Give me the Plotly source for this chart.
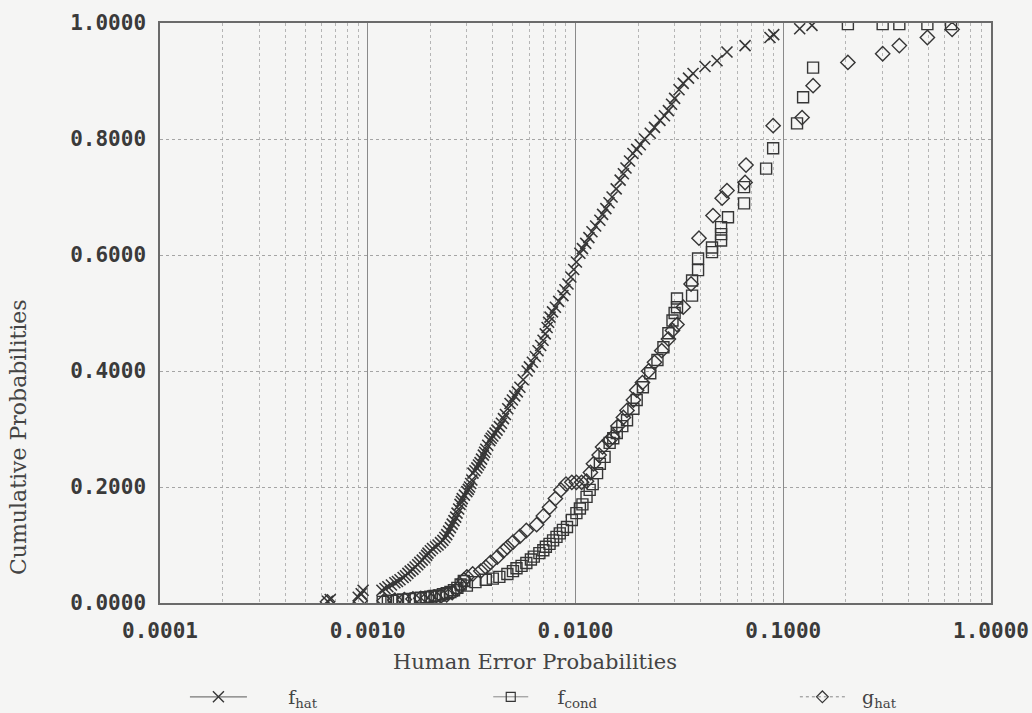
import plotly.graph_objects as go

# ---- data -------------------------------------------------------------
# f_hat : empirical CDF of estimated human error probabilities
fhat_x = [0.00064, 0.00066, 0.00090, 0.00093, 0.00095,
          0.00117, 0.00121, 0.00125, 0.00130, 0.00135, 0.00139, 0.00143, 0.00148,
          0.00152, 0.00156, 0.00160, 0.00165, 0.00169, 0.00174, 0.00178, 0.00183,
          0.00188, 0.00192, 0.00195, 0.00200, 0.00205, 0.00212, 0.00218, 0.00224,
          0.00230, 0.00235, 0.00240, 0.00245, 0.00250, 0.00255, 0.00260, 0.00265,
          0.00269, 0.00274, 0.00278, 0.00282, 0.00285, 0.00292, 0.00300, 0.00305,
          0.00309, 0.00313, 0.00317, 0.00321, 0.00328, 0.00335, 0.00341, 0.00347,
          0.00353, 0.00360, 0.00365, 0.00370, 0.00378, 0.00387, 0.00393, 0.00400,
          0.00410, 0.00419, 0.00430, 0.00440, 0.00450, 0.00460, 0.00472, 0.00484,
          0.00497, 0.00510, 0.00525, 0.00540, 0.00560, 0.00585, 0.00600, 0.00620,
          0.00640, 0.00660, 0.00680, 0.00698, 0.00715, 0.00730, 0.00742, 0.00754,
          0.00775, 0.00800, 0.00830, 0.00870, 0.00890, 0.00920, 0.00950, 0.00980,
          0.01010, 0.01050, 0.01080, 0.01120, 0.01160, 0.01200, 0.01250, 0.01310,
          0.01350, 0.01400, 0.01450, 0.01500, 0.01570, 0.01640, 0.01700, 0.01750,
          0.01820, 0.01890, 0.01970, 0.02050, 0.02150, 0.02290, 0.02400, 0.02550,
          0.02680, 0.02800, 0.02900, 0.03000, 0.03150, 0.03300, 0.03500, 0.03680,
          0.04200, 0.04800, 0.05360, 0.06550, 0.08630, 0.09000, 0.12000, 0.13750]
fhat_y = [0.003, 0.006, 0.010, 0.016, 0.022,
          0.022, 0.025, 0.028, 0.031, 0.035, 0.037, 0.040, 0.044,
          0.047, 0.051, 0.055, 0.058, 0.062, 0.066, 0.070, 0.074,
          0.078, 0.082, 0.086, 0.090, 0.094, 0.097, 0.100, 0.104,
          0.108, 0.113, 0.118, 0.124, 0.130, 0.136, 0.142, 0.148,
          0.155, 0.162, 0.170, 0.175, 0.180, 0.186, 0.192, 0.196,
          0.200, 0.206, 0.212, 0.224, 0.228, 0.233, 0.238, 0.242,
          0.248, 0.255, 0.260, 0.265, 0.272, 0.280, 0.284, 0.288,
          0.293, 0.298, 0.304, 0.310, 0.318, 0.325, 0.335, 0.344,
          0.350, 0.357, 0.364, 0.372, 0.385, 0.400, 0.407, 0.415,
          0.425, 0.435, 0.444, 0.453, 0.464, 0.475, 0.484, 0.493,
          0.502, 0.510, 0.520, 0.530, 0.540, 0.550, 0.562, 0.575,
          0.588, 0.603, 0.611, 0.620, 0.630, 0.640, 0.650, 0.660,
          0.670, 0.680, 0.690, 0.700, 0.714, 0.729, 0.740, 0.750,
          0.762, 0.775, 0.782, 0.790, 0.800, 0.810, 0.820, 0.832,
          0.840, 0.849, 0.860, 0.870, 0.885, 0.896, 0.905, 0.913,
          0.925, 0.935, 0.950, 0.961, 0.975, 0.980, 0.990, 0.996]

# f_cond : conditional distribution
fcond_x = [0.00118, 0.00125, 0.00130, 0.00138, 0.00148, 0.00158, 0.00170, 0.00180,
           0.00190, 0.00200, 0.00210, 0.00220, 0.00230, 0.00240, 0.00250, 0.00260,
           0.00270, 0.00280, 0.00290, 0.00300, 0.00330, 0.00370, 0.00400, 0.00430,
           0.00470, 0.00500, 0.00520, 0.00550, 0.00580, 0.00610, 0.00630, 0.00670,
           0.00700, 0.00720, 0.00750, 0.00780, 0.00810, 0.00840, 0.00870, 0.00910,
           0.00960, 0.01010, 0.01050, 0.01080, 0.01130, 0.01170, 0.01210, 0.01270,
           0.01310, 0.01380, 0.01460, 0.01520, 0.01580, 0.01680, 0.01770, 0.01900,
           0.01970, 0.02110, 0.02290, 0.02480, 0.02650, 0.02800, 0.02930, 0.03000,
           0.03080, 0.03080, 0.03640, 0.03640, 0.03890, 0.03890, 0.04540, 0.04540,
           0.05020, 0.05020, 0.05020, 0.05420, 0.06480, 0.06480, 0.08270, 0.08940,
           0.11650, 0.12460, 0.13920, 0.20470, 0.30100, 0.36200, 0.49400, 0.64200]
fcond_y = [0.002, 0.003, 0.004, 0.005, 0.006, 0.007, 0.008, 0.009,
           0.010, 0.011, 0.012, 0.013, 0.015, 0.017, 0.019, 0.022,
           0.026, 0.032, 0.038, 0.030, 0.036, 0.040, 0.042, 0.045,
           0.050, 0.055, 0.060, 0.064, 0.069, 0.075, 0.080, 0.086,
           0.091, 0.097, 0.102, 0.108, 0.114, 0.120, 0.126, 0.131,
           0.143, 0.155, 0.163, 0.170, 0.183, 0.195, 0.205, 0.224,
           0.240, 0.252, 0.276, 0.284, 0.293, 0.305, 0.315, 0.335,
           0.350, 0.372, 0.396, 0.419, 0.441, 0.465, 0.487, 0.500,
           0.510, 0.525, 0.530, 0.556, 0.574, 0.594, 0.605, 0.613,
           0.625, 0.636, 0.648, 0.665, 0.689, 0.717, 0.749, 0.784,
           0.827, 0.872, 0.923, 0.998, 0.998, 0.998, 0.998, 0.998]

# g_hat : alternative estimate
ghat_x = [0.00064, 0.00092, 0.00120, 0.00135, 0.00150, 0.00165, 0.00180, 0.00195,
          0.00210, 0.00225, 0.00240, 0.00255, 0.00270, 0.00280, 0.00290, 0.00300,
          0.00320, 0.00350, 0.00370, 0.00390, 0.00420, 0.00450, 0.00470, 0.00500,
          0.00540, 0.00580, 0.00650, 0.00700, 0.00750, 0.00800, 0.00850, 0.00900,
          0.00960, 0.01010, 0.01070, 0.01130, 0.01180, 0.01220, 0.01300, 0.01350,
          0.01450, 0.01510, 0.01600, 0.01700, 0.01770, 0.01900, 0.01970, 0.02100,
          0.02250, 0.02400, 0.02600, 0.02800, 0.02930, 0.03080, 0.03300, 0.03600,
          0.03930, 0.04590, 0.05080, 0.05360, 0.06550, 0.06620, 0.08940, 0.12320,
          0.13920, 0.20470, 0.30100, 0.36200, 0.49400, 0.65000]
ghat_y = [0.002, 0.004, 0.004, 0.005, 0.006, 0.007, 0.008, 0.009,
          0.010, 0.012, 0.014, 0.018, 0.024, 0.030, 0.040, 0.045,
          0.050, 0.055, 0.062, 0.070, 0.079, 0.090, 0.096, 0.105,
          0.115, 0.125, 0.135, 0.150, 0.165, 0.180, 0.195, 0.205,
          0.208, 0.208, 0.208, 0.210, 0.225, 0.240, 0.255, 0.269,
          0.280, 0.286, 0.305, 0.320, 0.332, 0.350, 0.367, 0.380,
          0.400, 0.415, 0.435, 0.455, 0.470, 0.480, 0.510, 0.550,
          0.629, 0.668, 0.698, 0.711, 0.725, 0.755, 0.823, 0.837,
          0.892, 0.932, 0.947, 0.961, 0.975, 0.989]

x_tick_vals = [1e-4, 1e-3, 1e-2, 1e-1, 1.0]
x_tick_text = ["0.0001", "0.0010", "0.0100", "0.1000", "1.0000"]
x_minor_vals = [m * d for d in (1e-4, 1e-3, 1e-2, 1e-1) for m in range(2, 10)]
y_tick_vals = [0.0, 0.2, 0.4, 0.6, 0.8, 1.0]
y_tick_text = ["0.0000", "0.2000", "0.4000", "0.6000", "0.8000", "1.0000"]

INK = "#363636"
MONO = "DejaVu Sans Mono"
SERIF = "DejaVu Serif"
GAP = "\u00a0"

fig = go.Figure()

# data markers
fig.add_trace(go.Scatter(
    x=fhat_x, y=fhat_y, mode="markers", showlegend=False,
    marker=dict(symbol="x-thin", size=11, line=dict(width=1.6, color=INK)),
))
fig.add_trace(go.Scatter(
    x=fcond_x, y=fcond_y, mode="markers", showlegend=False,
    marker=dict(symbol="square-open", size=11, color=INK, line=dict(width=1.4)),
))
fig.add_trace(go.Scatter(
    x=ghat_x, y=ghat_y, mode="markers", showlegend=False,
    marker=dict(symbol="diamond-open", size=11, color=INK, line=dict(width=1.4)),
))

# legend keys (line + marker)
fig.add_trace(go.Scatter(
    x=[None], y=[None], mode="lines+markers", legend="legend",
    name=GAP * 6 + "f<sub>hat</sub>",
    line=dict(color="#777777", width=1.2),
    marker=dict(symbol="x-thin", size=11, line=dict(width=1.4, color=INK)),
))
fig.add_trace(go.Scatter(
    x=[None], y=[None], mode="lines+markers", legend="legend2",
    name=GAP * 4 + "f<sub>cond</sub>",
    line=dict(color="#888888", width=1.0),
    marker=dict(symbol="square-open", size=9, color=INK, line=dict(width=1.2)),
))
fig.add_trace(go.Scatter(
    x=[None], y=[None], mode="lines+markers", legend="legend3",
    name=GAP * 2 + "g<sub>hat</sub>",
    line=dict(color="#888888", width=1.0, dash="dot"),
    marker=dict(symbol="diamond-open", size=9, color=INK, line=dict(width=1.2)),
))

legend_common = dict(
    orientation="h", yanchor="middle", xanchor="left", y=-0.162,
    bgcolor="rgba(0,0,0,0)", font=dict(family=SERIF, size=19, color="#444444"),
)
fig.update_layout(
    width=1032, height=713,
    margin=dict(l=160, r=41, t=23, b=110, autoexpand=False),
    paper_bgcolor="#f5f5f4", plot_bgcolor="#f5f5f4",
    legend=dict(x=0.030, itemwidth=57, **legend_common),
    legend2=dict(x=0.395, itemwidth=35, **legend_common),
    legend3=dict(x=0.764, itemwidth=45, **legend_common),
    xaxis=dict(
        type="log", range=[-4, 0], tickvals=x_tick_vals, ticktext=x_tick_text,
        showgrid=True, gridcolor="#8a8a8a", gridwidth=1.2,
        minor=dict(tickvals=x_minor_vals, showgrid=True, gridcolor="#b5b5b5",
                   griddash="dot", gridwidth=1),
        showline=True, linecolor="#6a6a6a", linewidth=1.5, mirror=True,
        zeroline=False, ticks="", ticklabelstandoff=8,
        tickfont=dict(family=MONO, size=21, color="#3a3a3a", weight="bold"),
    ),
    yaxis=dict(
        range=[0, 1], tickvals=y_tick_vals, ticktext=y_tick_text,
        showgrid=True, gridcolor="#a5a5a5", griddash="dot", gridwidth=1.2,
        showline=True, linecolor="#6a6a6a", linewidth=1.5, mirror=True,
        zeroline=False, ticks="", ticklabelstandoff=8,
        tickfont=dict(family=MONO, size=21, color="#3a3a3a", weight="bold"),
    ),
    annotations=[
        dict(text="Human Error Probabilities", xref="paper", yref="paper",
             x=0.451, y=-0.1017, xanchor="center", yanchor="middle", showarrow=False,
             font=dict(family=SERIF, size=21, color="#444444")),
        dict(text="Cumulative Probabilities", xref="paper", yref="paper",
             x=-0.171, y=0.286, xanchor="center", yanchor="middle", showarrow=False,
             textangle=-90, font=dict(family=SERIF, size=22, color="#444444")),
    ],
)

fig.write_html("out.html")
